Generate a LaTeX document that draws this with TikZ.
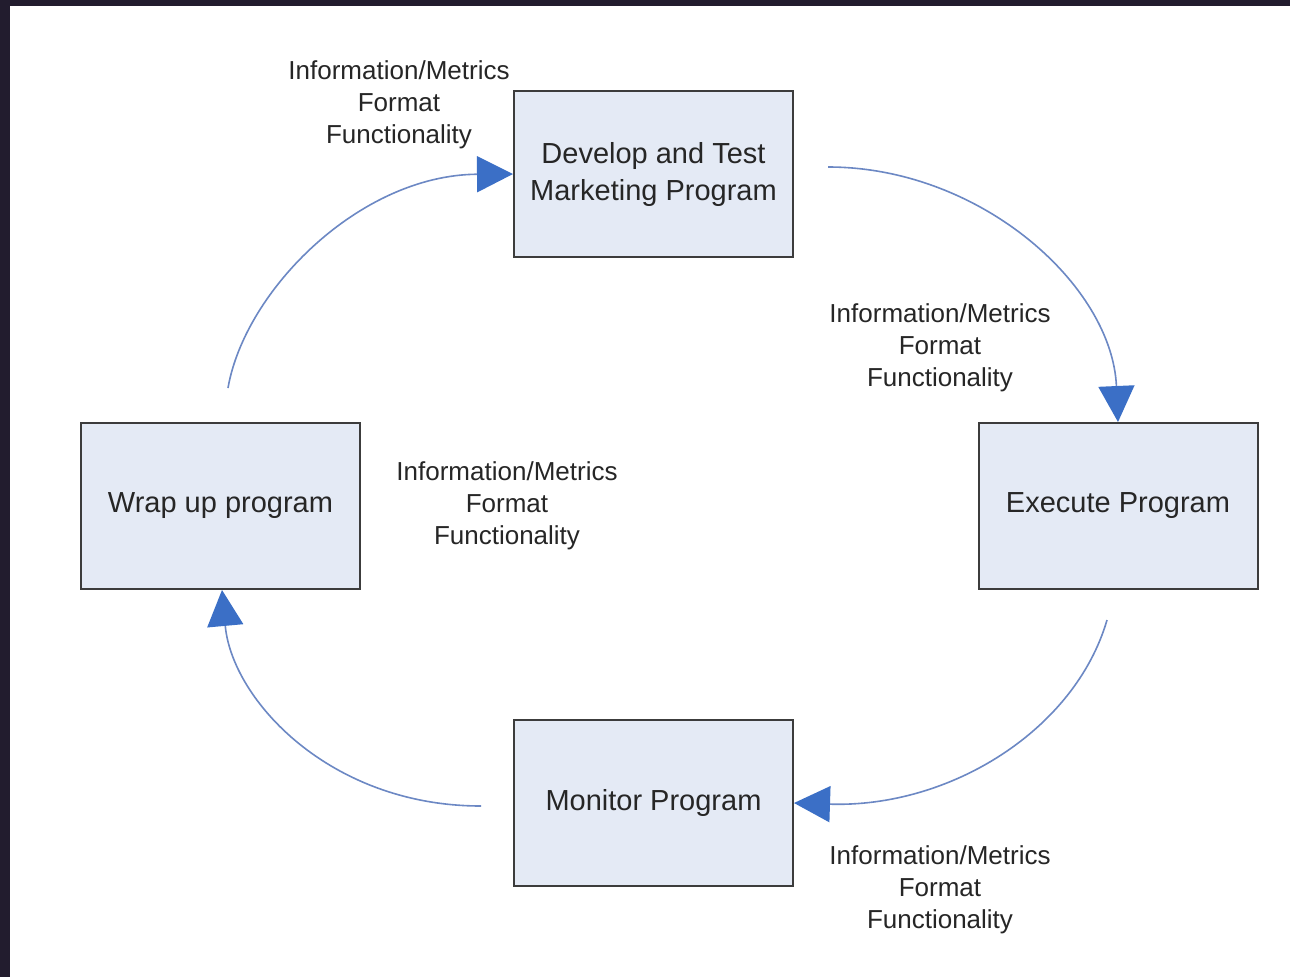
\documentclass[tikz,border=0pt]{standalone}
\usepackage{fontspec}
\setmainfont{Liberation Sans}
\usetikzlibrary{arrows.meta}
\definecolor{frame}{HTML}{221C2E}
\definecolor{boxfill}{HTML}{E4EAF5}
\definecolor{boxline}{HTML}{3C3C3C}
\definecolor{linkline}{HTML}{6C88C4}
\definecolor{headblue}{HTML}{3B6FC6}
\definecolor{txt}{HTML}{262626}
\tikzset{
  procbox/.style={draw=boxline, line width=2pt, fill=boxfill, minimum width=279pt,
    minimum height=166pt, inner sep=0pt, align=center, text=txt,
    font=\fontsize{29}{37}\selectfont},
  infolabel/.style={align=center, text=txt, inner sep=0pt,
    font=\fontsize{26}{32}\selectfont},
  flow/.style={draw=linkline, line width=1.6pt,
    -{Triangle[length=36pt, width=36pt, color=headblue, fill=headblue]}}
}
\begin{document}
\begin{tikzpicture}[x=1pt, y=-1pt]
\useasboundingbox (0,0) rectangle (1290,977);
\fill[white] (0,0) rectangle (1290,977);
\fill[frame] (0,0) rectangle (1290,6);
\fill[frame] (0,0) rectangle (10,977);

\node[procbox] (dev) at (653.5,174) {Develop and Test\\Marketing Program};
\node[procbox] (exe) at (1118,506) {Execute Program};
\node[procbox] (mon) at (653.5,803) {Monitor Program};
\node[procbox] (wrap) at (220.5,506) {Wrap up program};

\node[infolabel] (l1) at (399,105) {Information/Metrics\\Format\\Functionality};
\node[infolabel] (l2) at (940,348) {Information/Metrics\\Format\\Functionality};
\node[infolabel] (l3) at (507,506) {Information/Metrics\\Format\\Functionality};
\node[infolabel] (l4) at (940,890) {Information/Metrics\\Format\\Functionality};

\coordinate (s1) at (228,388);
\coordinate (s2) at (828,167);
\coordinate (s3) at (1107,620);
\coordinate (s4) at (481,806);

\draw[flow] (s1) .. controls (245,290) and (360,175) .. (dev.west);
\draw[flow] (s2) .. controls (980,167) and (1112,285) .. (exe.north);
\draw[flow] (s3) .. controls (1075,730) and (950,808) .. (mon.east);
\draw[flow] (s4) .. controls (330,806) and (232,700) .. ([xshift=1.5pt]wrap.south);
\end{tikzpicture}
\end{document}
